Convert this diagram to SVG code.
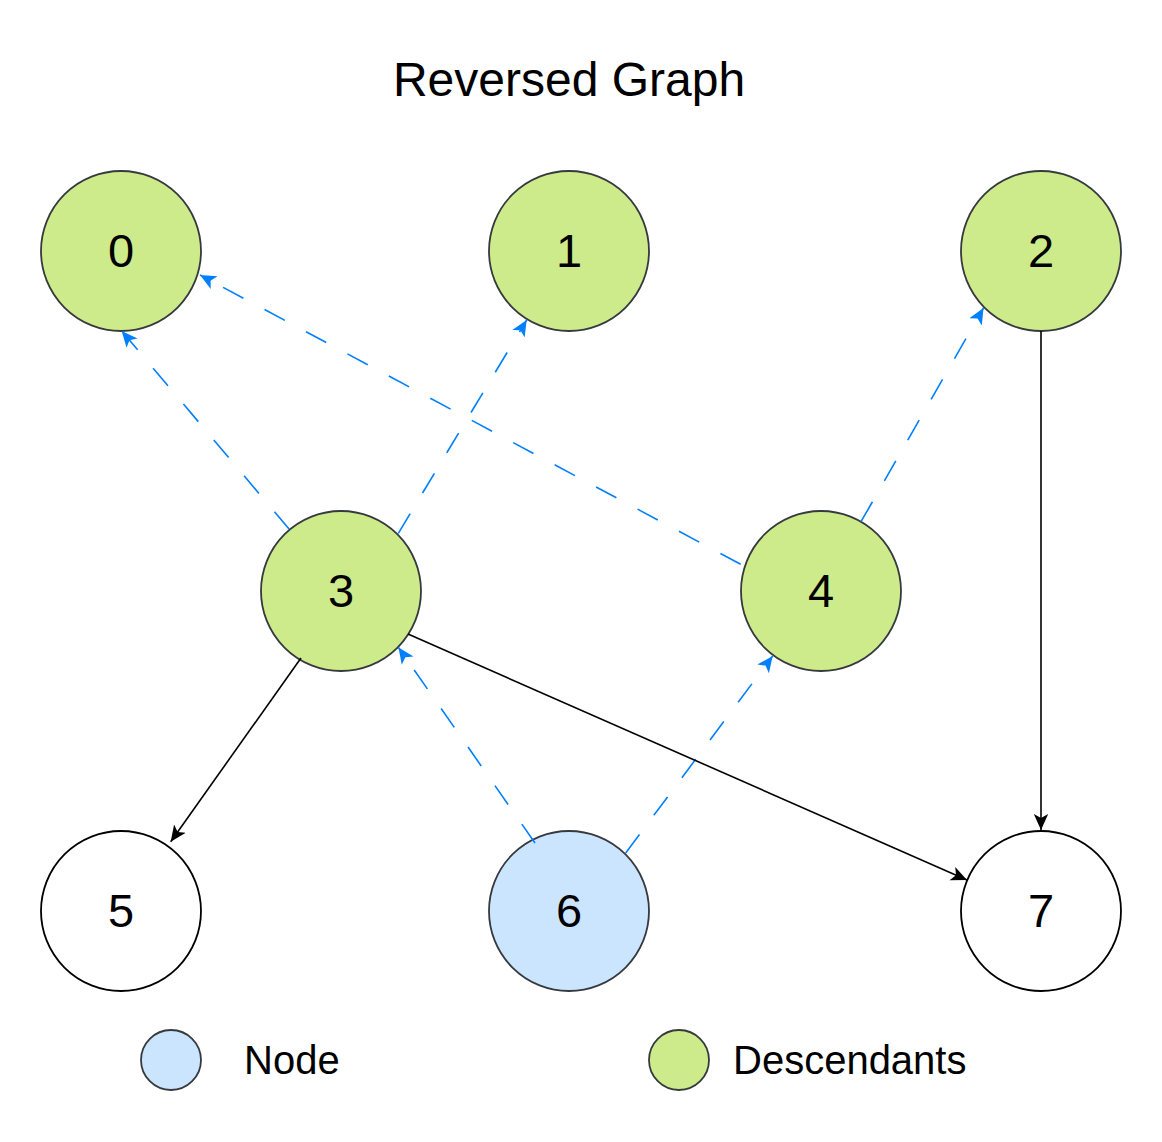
<svg xmlns="http://www.w3.org/2000/svg" width="1162" height="1142" viewBox="0 0 1162 1142">
<style>
.title{font-family:"Liberation Sans",Arial,sans-serif;font-size:48px;fill:#000;text-anchor:middle}
.lbl{font-family:"Liberation Sans",Arial,sans-serif;font-size:47px;fill:#000;text-anchor:middle}
.leg{font-family:"Liberation Sans",Arial,sans-serif;font-size:40px;fill:#000}
.g{fill:#cdeb8b;stroke:#36393d;stroke-width:1.8}
.b{fill:#cce5ff;stroke:#36393d;stroke-width:1.8}
.w{fill:#ffffff;stroke:#000;stroke-width:1.8}
.blue{fill:none;stroke:#007fff;stroke-width:1.6;stroke-dasharray:23 24;marker-end:url(#ab)}
.blk{fill:none;stroke:#000;stroke-width:1.6;marker-end:url(#ak)}
</style>
<defs>
<marker id="ab" markerUnits="userSpaceOnUse" viewBox="0 0 16 16" markerWidth="16" markerHeight="16" refX="16" refY="8" orient="auto">
<path d="M16,8 L0,0.8 L4,8 L0,15.2 Z" fill="#007fff"/>
</marker>
<marker id="ak" markerUnits="userSpaceOnUse" viewBox="0 0 16 16" markerWidth="16" markerHeight="16" refX="16" refY="8" orient="auto">
<path d="M16,8 L0,0.8 L4,8 L0,15.2 Z" fill="#000"/>
</marker>
</defs>
<rect width="1162" height="1142" fill="#ffffff"/>
<text class="title" x="569" y="96">Reversed Graph</text>
<g id="node-0"><circle class="g" cx="121" cy="251" r="80"/><text class="lbl" x="121" y="267">0</text></g>
<g id="node-1"><circle class="g" cx="569" cy="251" r="80"/><text class="lbl" x="569" y="267">1</text></g>
<g id="node-2"><circle class="g" cx="1041" cy="251" r="80"/><text class="lbl" x="1041" y="267">2</text></g>
<g id="node-3"><circle class="g" cx="341" cy="591" r="80"/><text class="lbl" x="341" y="607">3</text></g>
<g id="node-4"><circle class="g" cx="821" cy="591" r="80"/><text class="lbl" x="821" y="607">4</text></g>
<g id="node-5"><circle class="w" cx="121" cy="911" r="80"/><text class="lbl" x="121" y="927">5</text></g>
<g id="node-6"><circle class="b" cx="569" cy="911" r="80"/><text class="lbl" x="569" y="927">6</text></g>
<g id="node-7"><circle class="w" cx="1041" cy="911" r="80"/><text class="lbl" x="1041" y="927">7</text></g>
<g id="connectors">
<path class="blue" d="M289.3,529.3 L121.7,331"/>
<path class="blue" d="M398.3,533.3 L526.7,320"/>
<path class="blue" d="M740.7,564.3 L200,275"/>
<path class="blue" d="M861,521.7 L983.5,308"/>
<path class="blue" d="M535,843 L398.5,647.5"/>
<path class="blue" d="M625.7,853 L772.7,656"/>
<path class="blk" d="M301,658 L170.7,841.7"/>
<path class="blk" d="M408,634 L967,880"/>
<path class="blk" d="M1041,331 L1041,830"/>
</g>
<g id="legend-node"><circle class="b" cx="171" cy="1060" r="30"/><text class="leg" x="244" y="1074">Node</text></g>
<g id="legend-desc"><circle class="g" cx="679" cy="1060" r="30"/><text class="leg" x="733" y="1074">Descendants</text></g>
</svg>
